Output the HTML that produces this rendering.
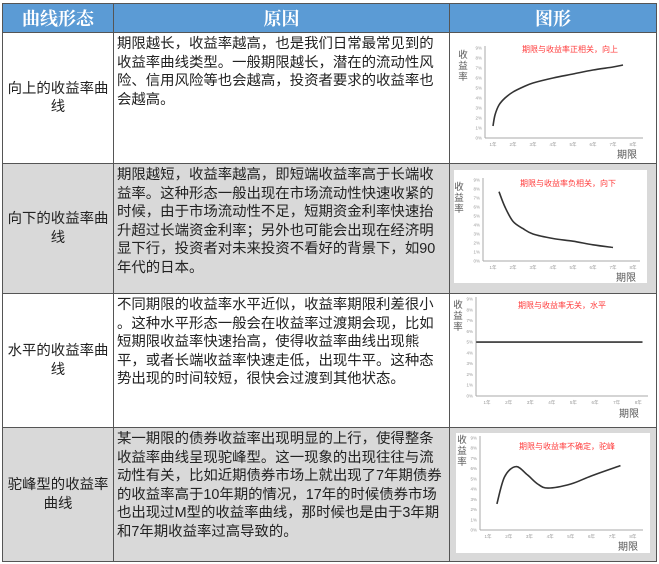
<!DOCTYPE html>
<html><head><meta charset="utf-8">
<style>
body{margin:0;width:659px;height:564px;background:#fff;position:relative;overflow:hidden;font-family:"Liberation Sans","Noto Sans CJK SC",sans-serif;}
.c{position:absolute;box-sizing:border-box;border-right:1px solid #555;border-bottom:1px solid #555;}
.h{background:#5b9bd5;color:#fff;font-family:"Liberation Serif","Noto Serif CJK SC",serif;font-weight:bold;font-size:18px;display:flex;align-items:center;justify-content:center;}
.n{display:flex;align-items:center;justify-content:center;text-align:center;font-size:14.4px;line-height:18.5px;color:#222;padding:0 3px;}
.t{font-size:14.4px;line-height:18.5px;color:#222;padding:2px 2px 0 3px;line-break:anywhere;}
.nw{white-space:nowrap;overflow:hidden;}
.g{background:#d9d9d9;}
svg{position:absolute;left:0;top:0;}
</style></head><body>
<div class="c h" style="left:2px;top:3px;width:112px;height:30px;border-left:1px solid #555;border-top:1px solid #555">曲线形态</div>
<div class="c h" style="left:114px;top:3px;width:336px;height:30px;border-top:1px solid #555">原因</div>
<div class="c h" style="left:450px;top:3px;width:207px;height:30px;border-top:1px solid #555">图形</div>

<div class="c n" style="left:2px;top:33px;width:112px;height:131px;border-left:1px solid #555">向上的收益率曲线</div>
<div class="c t" style="left:114px;top:33px;width:336px;height:131px">期限越长，收益率越高，也是我们日常最常见到的收益率曲线类型。一般期限越长，潜在的流动性风险、信用风险等也会越高，投资者要求的收益率也会越高。</div>
<div class="c" style="left:450px;top:33px;width:207px;height:131px"></div>

<div class="c n g" style="left:2px;top:164px;width:112px;height:130px;border-left:1px solid #555">向下的收益率曲线</div>
<div class="c t g" style="left:114px;top:164px;width:336px;height:130px">期限越短，收益率越高，即短端收益率高于长端收益率。这种形态一般出现在市场流动性快速收紧的时候，由于市场流动性不足，短期资金利率快速抬升超过长端资金利率；另外也可能会出现在经济明显下行，投资者对未来投资不看好的背景下，如90年代的日本。</div>
<div class="c g" style="left:450px;top:164px;width:207px;height:130px"></div>

<div class="c n" style="left:2px;top:294px;width:112px;height:134px;border-left:1px solid #555">水平的收益率曲线</div>
<div class="c t nw" style="left:114px;top:294px;width:336px;height:134px">不同期限的收益率水平近似，收益率期限利差很小<br>。这种水平形态一般会在收益率过渡期会现，比如<br>短期限收益率快速抬高，使得收益率曲线出现熊<br>平，或者长端收益率快速走低，出现牛平。这种态<br>势出现的时间较短，很快会过渡到其他状态。</div>
<div class="c" style="left:450px;top:294px;width:207px;height:134px"></div>

<div class="c n g" style="left:2px;top:428px;width:112px;height:134px;border-left:1px solid #555">驼峰型的收益率曲线</div>
<div class="c t g" style="left:114px;top:428px;width:336px;height:134px">某一期限的债券收益率出现明显的上行，使得整条收益率曲线呈现驼峰型。这一现象的出现往往与流动性有关，比如近期债券市场上就出现了7年期债券的收益率高于10年期的情况，17年的时候债券市场也出现过M型的收益率曲线，那时候也是由于3年期和7年期收益率过高导致的。</div>
<div class="c g" style="left:450px;top:428px;width:207px;height:134px"></div>

<svg id="s" width="659" height="564"></svg>
<script>
const yTicks=["0%","1%","2%","3%","4%","5%","6%","7%","8%","9%"];
const xTicks=["1年","2年","3年","4年","5年","6年","7年","8年"];
const upTerms=[1,1.1,1.3,1.6,2,2.5,3,4,5,6,7,7.5];
const upValues=[1.2,2.3,3.3,4.0,4.6,5.1,5.5,6.0,6.4,6.8,7.1,7.3];
const downTerms=[1.3,1.6,2,2.5,3,4,5,6,7];
const downValues=[7.7,6.0,4.4,3.6,3.0,2.5,2.2,1.8,1.5];
const flatTerms=[0.5,8.2];
const flatValues=[5,5];
const humpTerms=[1.43,1.8,2.35,2.9,3.4,3.9,5,6,7.4];
const humpValues=[2.55,5.2,6.2,5.4,4.5,4.1,4.5,5.3,6.3];
const titles=["期限与收益率正相关，向上","期限与收益率负相关，向下","期限与收益率无关，水平","期限与收益率不确定，驼峰"];
const svg=document.getElementById('s');
const NS='http://www.w3.org/2000/svg';
function mk(tag,at,name){const e=document.createElementNS(NS,tag);for(const k in at)e.setAttribute(k,at[k]);


svg.appendChild(e);return e;}
function smooth(pts){let d='M'+pts[0][0]+','+pts[0][1];for(let i=0;i<pts.length-1;i++){const p0=pts[i-1]||pts[i],p1=pts[i],p2=pts[i+1],p3=pts[i+2]||p2;
d+=' C'+(p1[0]+(p2[0]-p0[0])/6)+','+(p1[1]+(p2[1]-p0[1])/6)+' '+(p2[0]-(p3[0]-p1[0])/6)+','+(p2[1]-(p3[1]-p1[1])/6)+' '+p2[0]+','+p2[1];}return d;}
function chart(c,terms,vals,title,idx){
 if(c.panel) mk('rect',{x:c.panel[0],y:c.panel[1],width:c.panel[2],height:c.panel[3],fill:'#fff'},'chart-panel-'+idx);
 const yS=v=>c.y0-(c.y0-c.y9)*v/9;
 const xS=t=>c.x1+(t-1)*c.dx;
 mk('line',{x1:c.ax,y1:c.y9-2,x2:c.ax,y2:c.y0,stroke:'#aaa','stroke-width':1},'y-axis-'+idx);
 mk('line',{x1:c.ax,y1:c.y0,x2:c.xe,y2:c.y0,stroke:'#aaa','stroke-width':1},'x-axis-'+idx);
 yTicks.forEach((t,i)=>{const e=mk('text',{x:c.ax-3,y:yS(i)+1.5,'font-size':4.5,fill:'#999','text-anchor':'end'},'y-tick-label');e.textContent=t;});
 xTicks.forEach((t,i)=>{const e=mk('text',{x:xS(i+1),y:c.y0+8,'font-size':4.5,fill:'#999','text-anchor':'middle'},'x-tick-label');e.textContent=t;});
 const tt=mk('text',{x:c.tx,y:c.ty,'font-size':8,fill:'#ff3b3b','text-anchor':'middle'},'chart-title-'+idx);tt.textContent=title;
 const xl=mk('text',{x:c.xl[0],y:c.xl[1],'font-size':10,fill:'#555','text-anchor':'middle'},'x-axis-title-'+idx);xl.textContent='期限';
 ['收','益','率'].forEach((ch,i)=>{const e=mk('text',{x:c.yl[0],y:c.yl[1]+i*11,'font-size':9.5,fill:'#555','text-anchor':'middle'},'y-axis-title-'+idx);e.textContent=ch;});
 const pts=terms.map((t,i)=>[xS(t),yS(vals[i])]);
 mk('path',{d:smooth(pts),fill:'none',stroke:'#333','stroke-width':1.6},'yield-curve-'+idx);
}
chart({ax:485,y0:138,y9:48,x1:493,dx:20,xe:643,tx:570,ty:52,xl:[627,158],yl:[463,58]},upTerms,upValues,titles[0],1);
chart({panel:[454,170,193,113],ax:483,y0:261,y9:180,x1:493,dx:20,xe:640,tx:568,ty:186,xl:[626,281],yl:[459,190]},downTerms,downValues,titles[1],2);
chart({ax:476,y0:396,y9:299,x1:487,dx:21.6,xe:648,tx:562,ty:308,xl:[629,417],yl:[458,308]},flatTerms,flatValues,titles[2],3);
chart({panel:[456,433,194,120],ax:480,y0:530,y9:438,x1:488,dx:20.7,xe:643,tx:567,ty:449,xl:[628,550],yl:[462,443]},humpTerms,humpValues,titles[3],4);
</script>
</body></html>
